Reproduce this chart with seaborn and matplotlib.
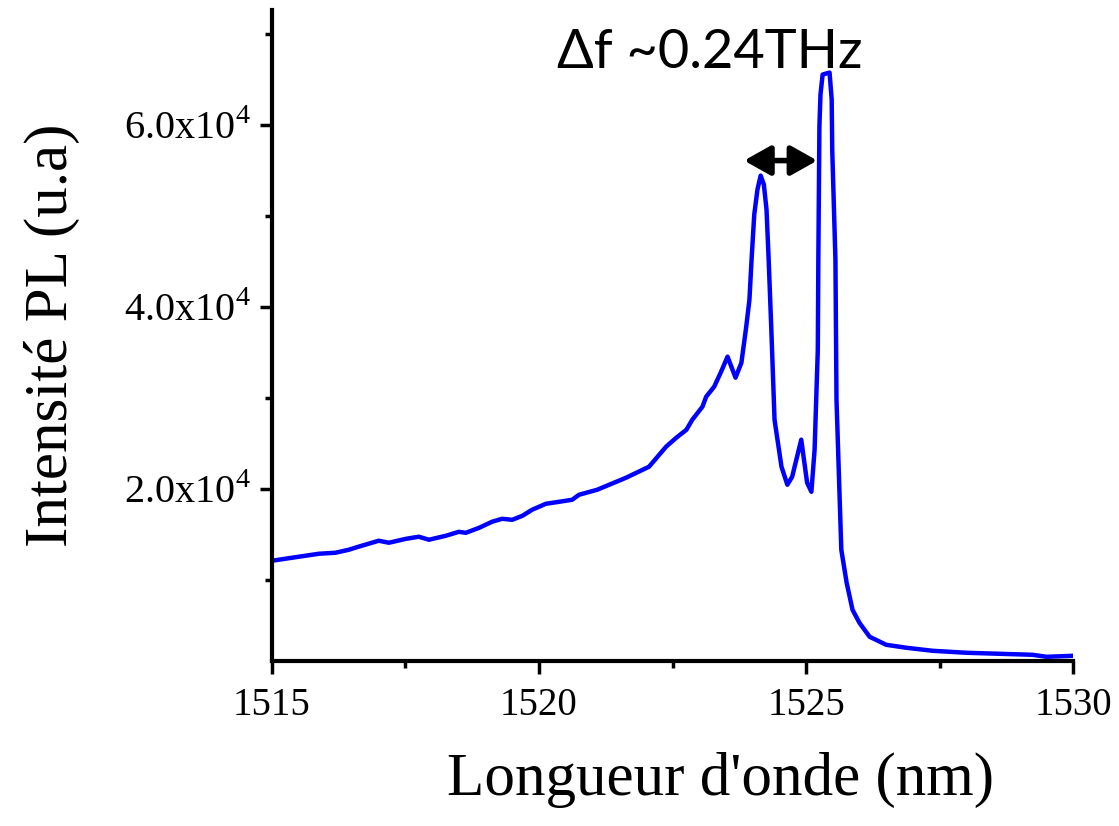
import matplotlib
matplotlib.use("Agg")
import matplotlib.pyplot as plt
import matplotlib.ticker as mticker
import seaborn as sns
import pandas as pd

# PL spectrum
wavelength = [1515.00, 1515.50, 1515.88, 1516.19, 1516.44, 1516.62, 1517.00, 1517.19,
              1517.51, 1517.75, 1517.94, 1518.26, 1518.50, 1518.63, 1518.88, 1519.12,
              1519.31, 1519.50, 1519.69, 1519.87, 1520.13, 1520.38, 1520.62, 1520.75,
              1521.09, 1521.63, 1522.06, 1522.38, 1522.57, 1522.76, 1522.87, 1523.06,
              1523.13, 1523.28, 1523.41, 1523.53, 1523.68, 1523.79, 1523.88, 1523.94,
              1523.98, 1524.03, 1524.09, 1524.15, 1524.21, 1524.26, 1524.30, 1524.35,
              1524.41, 1524.54, 1524.65, 1524.74, 1524.91, 1525.02, 1525.10, 1525.16,
              1525.22, 1525.23, 1525.25, 1525.27, 1525.31, 1525.44, 1525.48, 1525.49,
              1525.55, 1525.57, 1525.63, 1525.66, 1525.76, 1525.87, 1526.00, 1526.19,
              1526.50, 1526.88, 1527.37, 1528.01, 1528.63, 1529.24, 1529.50, 1530.00]
intensity = [12090, 12530, 12860, 12970, 13300, 13630, 14290, 14070,
             14500, 14730, 14400, 14840, 15270, 15160, 15710, 16370,
             16700, 16590, 17030, 17690, 18350, 18570, 18790, 19340,
             19890, 21210, 22420, 24620, 25600, 26480, 27580, 29010,
             30110, 31210, 32860, 34510, 32200, 33850, 37800, 40770,
             45170, 50110, 52860, 54400, 53410, 50660, 45170, 37470,
             27580, 22420, 20440, 21320, 25390, 20660, 19670, 24290,
             35280, 45170, 59780, 63300, 65500, 65720, 62750, 57260,
             45170, 29780, 18790, 13300, 9670, 6700, 5270, 3740,
             2860, 2530, 2200, 1980, 1870, 1760, 1540, 1650]

x_ticks = [1515, 1520, 1525, 1530]
y_ticks = [20000, 40000, 60000]
peak_left = 1523.84
peak_right = 1525.21
label_text = "Δf ~0.24THz"

df = pd.DataFrame({"wl": wavelength, "pl": intensity})

sns.set_style("ticks")
plt.rcParams["font.family"] = ["Liberation Serif", "DejaVu Serif"]
plt.rcParams["mathtext.fontset"] = "custom"
plt.rcParams["mathtext.rm"] = "Liberation Serif"
plt.rcParams["text.color"] = "black"
plt.rcParams["axes.labelcolor"] = "black"
plt.rcParams["xtick.color"] = "black"
plt.rcParams["ytick.color"] = "black"

fig = plt.figure(figsize=(11.19, 8.26), dpi=100)
ax = fig.add_axes([0.243, 0.2, 0.716, 0.788])

sns.lineplot(data=df, x="wl", y="pl", color="#0000ff", linewidth=3.2, ax=ax)

ax.set_xlim(1515, 1530)
ax.set_ylim(1100, 72600)
ax.set_xticks(x_ticks)
ax.set_yticks(y_ticks)
ax.xaxis.set_minor_locator(mticker.MultipleLocator(2.5))
ax.yaxis.set_minor_locator(mticker.FixedLocator([10000, 30000, 50000, 70000]))
ax.yaxis.set_major_formatter(mticker.FuncFormatter(lambda v, p: f"{v/1e4:.1f}x10$^{{4}}$"))

for side in ["top", "right"]:
    ax.spines[side].set_visible(False)
for side in ["left", "bottom"]:
    ax.spines[side].set_linewidth(3)
    ax.spines[side].set_color("black")

ax.tick_params(axis="both", which="major", direction="out", length=9, width=2.5)
ax.tick_params(axis="both", which="minor", direction="out", length=5, width=2.5)
ax.tick_params(axis="x", labelsize=28, pad=10)
ax.tick_params(axis="y", labelsize=29, pad=6)

ax.set_xlabel("Longueur d'onde (nm)", fontsize=44)
ax.set_ylabel("Intensité PL (u.a)", fontsize=44)
ax.xaxis.set_label_coords(0.56, -0.14)
ax.yaxis.set_label_coords(-0.24, 0.5)

ax.annotate("", xy=(peak_left, 56050), xytext=(peak_right, 56050),
            arrowprops=dict(arrowstyle="<|-|>,head_length=0.8,head_width=0.45",
                            mutation_scale=20, lw=4, color="black",
                            shrinkA=0, shrinkB=0))
ax.text(1520.34, 66270, label_text, fontsize=39, family=["Lato", "DejaVu Sans"],
        ha="left", va="baseline")

fig.savefig("out.png", dpi=100)
